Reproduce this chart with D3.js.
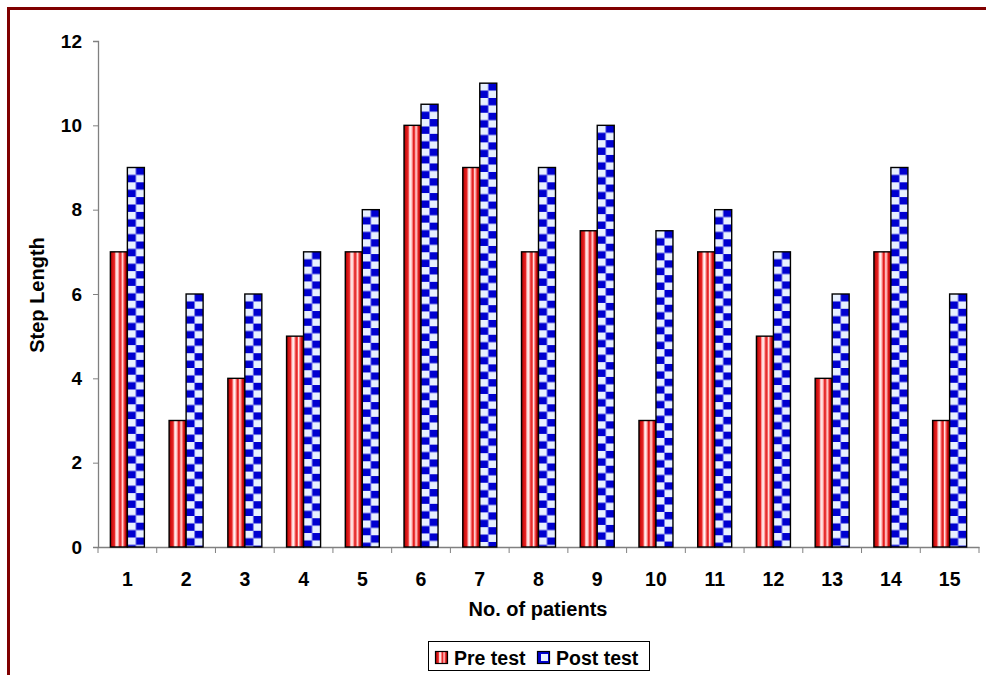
<!DOCTYPE html>
<html>
<head>
<meta charset="utf-8">
<script src="https://cdn.jsdelivr.net/npm/d3@7"></script>
<style>
  html, body { margin: 0; padding: 0; background: #fff; }
  svg { display: block; font-family: Arial, "Liberation Sans", sans-serif; }
</style>
</head>
<body>
<svg id="chart" width="986" height="675"></svg>
<script>
// Step length per patient, before and after the programme
const patients = ["1","2","3","4","5","6","7","8","9","10","11","12","13","14","15"];
const preTest  = [7, 3, 4, 5, 7, 10, 9, 7, 7.5, 3, 7, 5, 4, 7, 3];
const postTest = [9, 6, 6, 7, 8, 10.5, 11, 9, 10, 7.5, 8, 7, 6, 9, 6];
const yTicks = [0, 2, 4, 6, 8, 10, 12];
const seriesNames = ["Pre test", "Post test"];

const FONT = "Arial, 'Liberation Sans', sans-serif";
const svg = d3.select("#chart");
const margin = { left: 98, right: 979, top: 41, bottom: 547 };

// frame
svg.append("path")
  .attr("d", "M8.5,675 L8.5,8.5 L986,8.5")
  .attr("fill", "none")
  .attr("stroke", "#800000")
  .attr("stroke-width", 3);

const x = d3.scaleBand().domain(patients).range([margin.left, margin.right]);
const y = d3.scaleLinear().domain([0, 12]).range([margin.bottom, margin.top]);

const defs = svg.append("defs");

// vertical striped fill for pre-test bars
const grad = defs.append("linearGradient").attr("id", "stripes")
  .attr("x1", 0).attr("x2", 1).attr("y1", 0).attr("y2", 0);
[[0, "#8a0000"], [0.1, "#d01010"], [0.24, "#e82424"], [0.32, "#ffc8c8"], [0.4, "#fff4f4"],
 [0.48, "#ff9c9c"], [0.56, "#e01c1c"], [0.64, "#f04848"], [0.7, "#ffe8e8"], [0.76, "#ff9090"],
 [0.86, "#d81414"], [1, "#900000"]]
  .forEach(([o, c]) => grad.append("stop").attr("offset", o).attr("stop-color", c));

const barW = 17;
const inner = x.bandwidth();
const offset = (inner - 2 * barW) / 2;

// checkerboard fill for post-test bars, one aligned pattern per bar
const sq = barW / 2;
const sh = 7.4;
patients.forEach((p, i) => {
  const bx = x(p) + offset + barW;
  const pat = defs.append("pattern").attr("id", "check" + i)
    .attr("patternUnits", "userSpaceOnUse")
    .attr("x", bx).attr("y", y(postTest[i]))
    .attr("width", 2 * sq).attr("height", 2 * sh);
  pat.append("rect").attr("width", 2 * sq).attr("height", 2 * sh).attr("fill", "#e8f0ff");
  pat.append("rect").attr("x", sq).attr("y", 0).attr("width", sq).attr("height", sh).attr("fill", "#0000d0");
  pat.append("rect").attr("x", 0).attr("y", sh).attr("width", sq).attr("height", sh).attr("fill", "#0000d0");
});

// axes
const yAxis = d3.axisLeft(y).tickValues(yTicks).tickSize(5).tickPadding(11);
const gy = svg.append("g").attr("transform", `translate(${margin.left},0)`).call(yAxis);
gy.attr("font-size", null).attr("font-family", null);
gy.select(".domain").attr("stroke", "#808080").attr("stroke-width", 1.3);
gy.selectAll(".tick line").attr("stroke", "#808080");
gy.selectAll("text").style("font-size", "19px").style("font-weight", "bold").attr("fill", "#000")
  .style("font-family", FONT);

const gx = svg.append("g").attr("transform", `translate(0,${margin.bottom})`)
  .call(d3.axisBottom(x).tickSize(0).tickPadding(25));
gx.attr("font-size", null).attr("font-family", null);
gx.select(".domain").attr("stroke", "#808080").attr("stroke-width", 1.3);
gx.selectAll("text").style("font-size", "19.5px").style("font-weight", "bold").attr("fill", "#000")
  .style("font-family", FONT);
// category separators
gx.selectAll(".sep").data(patients.concat(["end"])).enter().append("line")
  .attr("x1", (d, i) => margin.left + i * inner).attr("x2", (d, i) => margin.left + i * inner)
  .attr("y1", 0).attr("y2", 6).attr("stroke", "#808080");

// bars
const bars = svg.append("g");
bars.selectAll(".pre").data(preTest).enter().append("rect")
  .attr("x", (d, i) => x(patients[i]) + offset)
  .attr("y", d => y(d))
  .attr("width", barW)
  .attr("height", d => y(0) - y(d))
  .attr("fill", "url(#stripes)")
  .attr("stroke", "#000").attr("stroke-width", 1.4);
bars.selectAll(".post").data(postTest).enter().append("rect")
  .attr("x", (d, i) => x(patients[i]) + offset + barW)
  .attr("y", d => y(d))
  .attr("width", barW)
  .attr("height", d => y(0) - y(d))
  .attr("fill", (d, i) => `url(#check${i})`)
  .attr("stroke", "#000").attr("stroke-width", 1.4);

// axis titles
svg.append("text").attr("x", 538).attr("y", 616).attr("text-anchor", "middle")
  .style("font-size", "20px").style("font-weight", "bold").text("No. of patients");
svg.append("text").attr("transform", "translate(44,295) rotate(-90)").attr("text-anchor", "middle")
  .style("font-size", "20px").style("font-weight", "bold").text("Step Length");

// legend
const lg = svg.append("g");
lg.append("rect").attr("x", 428.5).attr("y", 641.5).attr("width", 221).attr("height", 29)
  .attr("fill", "#fff").attr("stroke", "#000").attr("stroke-width", 1);
const lx = [435, 537];
seriesNames.forEach((name, i) => {
  if (i === 0) {
    lg.append("rect").attr("x", lx[i] + 0.5).attr("y", 651.5).attr("width", 12).attr("height", 12)
      .attr("fill", "url(#stripes)").attr("stroke", "#000").attr("stroke-width", 1.2);
  } else {
    lg.append("rect").attr("x", lx[i] + 0.5).attr("y", 651.5).attr("width", 12).attr("height", 12)
      .attr("fill", "#0000d0").attr("stroke", "#000").attr("stroke-width", 1.2);
    lg.append("rect").attr("x", lx[i] + 4).attr("y", 654).attr("width", 7).attr("height", 7)
      .attr("fill", "#e8f0ff");
  }
  lg.append("text").attr("x", lx[i] + 19).attr("y", 665)
    .style("font-size", "19.5px").style("font-weight", "bold").text(name);
});
</script>
</body>
</html>
